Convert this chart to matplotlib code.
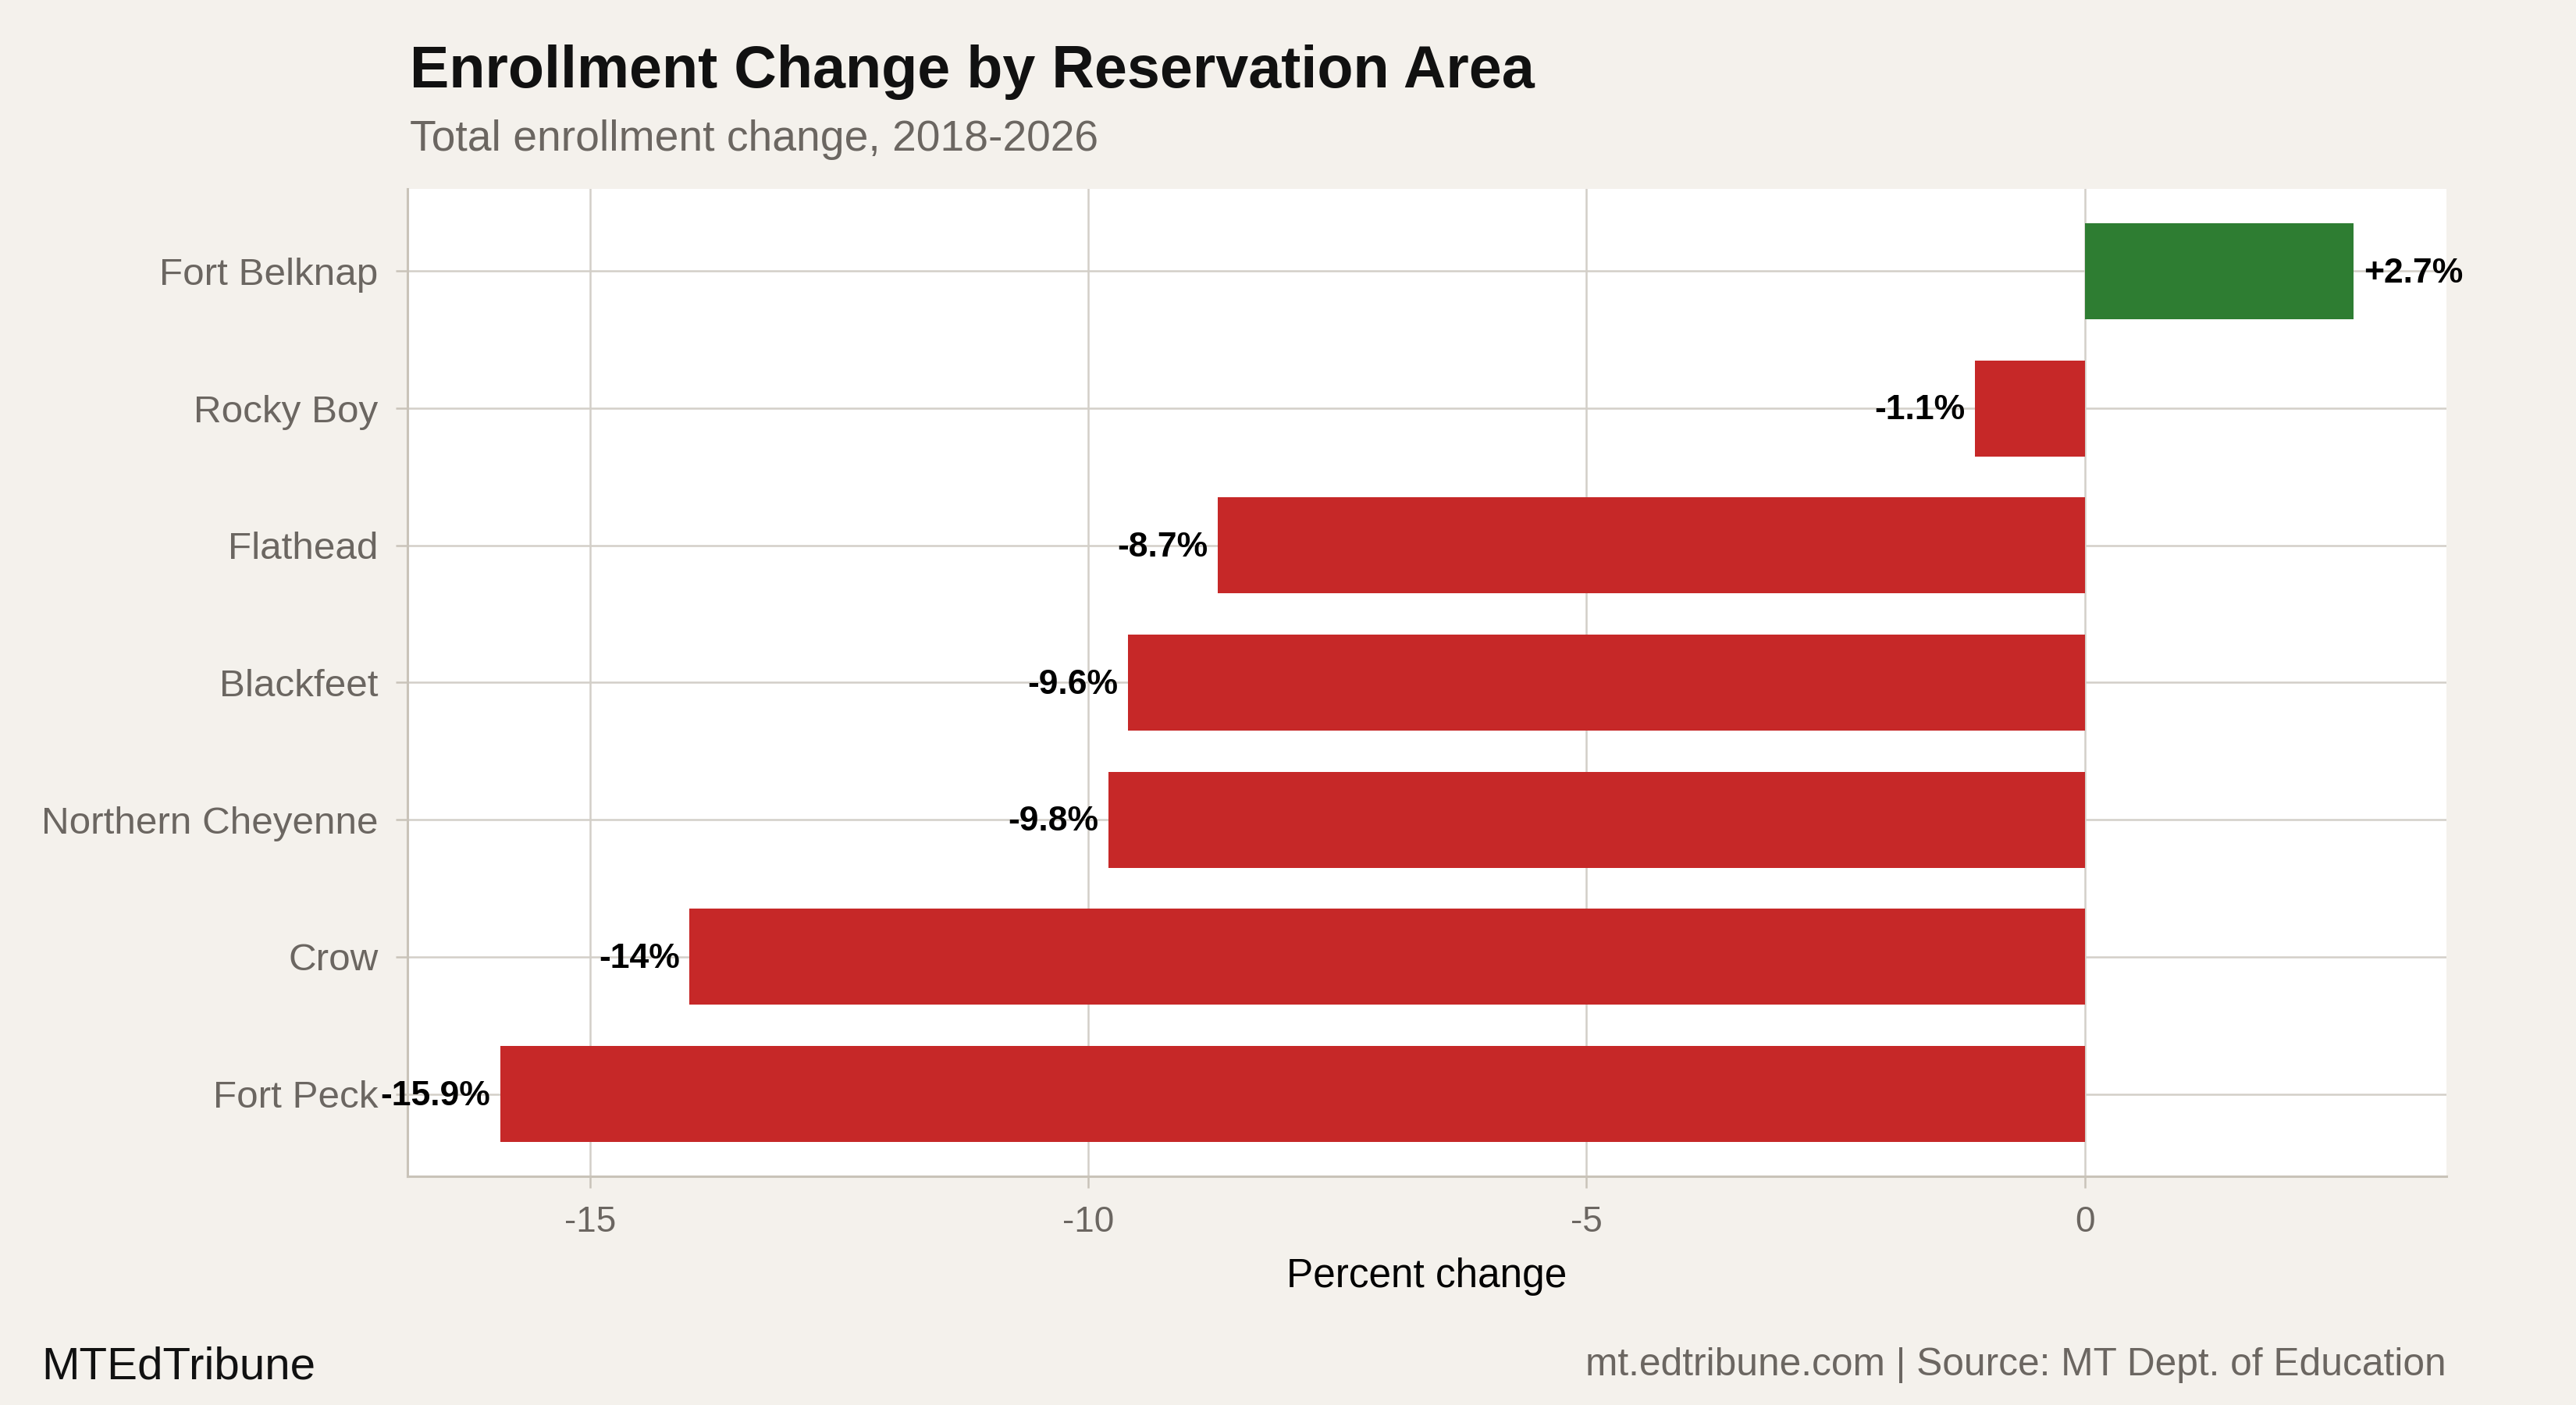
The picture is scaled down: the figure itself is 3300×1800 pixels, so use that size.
import numpy as np
import matplotlib
matplotlib.use("Agg")
import matplotlib.pyplot as plt

# Data, top to bottom as shown in the chart
areas = ["Fort Belknap", "Rocky Boy", "Flathead", "Blackfeet",
         "Northern Cheyenne", "Crow", "Fort Peck"]
pct_change = [2.7, -1.1, -8.7, -9.6, -9.8, -14.0, -15.9]
x_ticks = [-15, -10, -5, 0]

# Colours
bg = "#f4f1ec"
grid_col = "#d3cfc8"
axis_col = "#c9c3b9"
grey_txt = "#6b6661"
red = "#c62828"
green = "#2e7d32"

plt.rcParams["font.family"] = ["Liberation Sans", "DejaVu Sans"]

fig = plt.figure(figsize=[16.5, 9], dpi=200, facecolor=bg)
ax = fig.add_axes([0.1582, 0.1628, 0.9497 - 0.1582, 0.8656 - 0.1628])
ax.set_facecolor("white")

# Bars, plotted bottom-up so the first area is on top
y = np.arange(len(areas))[::-1]
colors = [green if v > 0 else red for v in pct_change]
ax.barh(y, pct_change, height=0.7, color=colors, zorder=2)

# Value labels at the bar ends
for yi, v in zip(y, pct_change):
    if v > 0:
        off, ha = 4.5, "left"
    else:
        off, ha = -4.5, "right"
    ax.annotate(f"{v:+g}%", xy=(v, yi), xytext=(off, -1), textcoords="offset points",
                ha=ha, va="center", fontsize=16, fontweight="bold", color="black",
                zorder=4, annotation_clip=False)

# Scales: ggplot-like 5% padding on x, 0.6 on discrete y
lo, hi = min(pct_change), max(pct_change)
pad = (hi - lo) * 0.05
ax.set_xlim(lo - pad, hi + pad)
ax.set_ylim(-0.6, len(areas) - 0.4)
ax.set_xticks(x_ticks)
ax.set_xticklabels([f"{t:g}" for t in x_ticks])
ax.set_yticks(y)
ax.set_yticklabels(areas)

ax.grid(True, color=grid_col, linewidth=0.9, zorder=0)
ax.set_axisbelow(True)
for s in ["top", "right"]:
    ax.spines[s].set_visible(False)
for s in ["left", "bottom"]:
    ax.spines[s].set_color(axis_col)
    ax.spines[s].set_linewidth(1.1)
ax.tick_params(axis="both", colors=axis_col, length=5.5, width=0.9,
               labelcolor=grey_txt)
ax.tick_params(axis="x", pad=8, labelsize=16.5)
ax.tick_params(axis="y", pad=8, labelsize=17.8)

ax.set_xlabel("Percent change", fontsize=18.5, color="black", labelpad=8)

# Titles and footer
fig.text(0.159, 0.9378, "Enrollment Change by Reservation Area", fontsize=27.2,
         fontweight="bold", color="#111111", ha="left", va="baseline")
fig.text(0.159, 0.893, "Total enrollment change, 2018-2026", fontsize=19.9,
         color=grey_txt, ha="left", va="baseline")
fig.text(0.016, 0.0185, "MTEdTribune", fontsize=21, color="#111111",
         ha="left", va="baseline")
fig.text(0.9497, 0.021, "mt.edtribune.com | Source: MT Dept. of Education",
         fontsize=17.85, color=grey_txt, ha="right", va="baseline")

fig.savefig("out.png", dpi=200, facecolor=bg)
